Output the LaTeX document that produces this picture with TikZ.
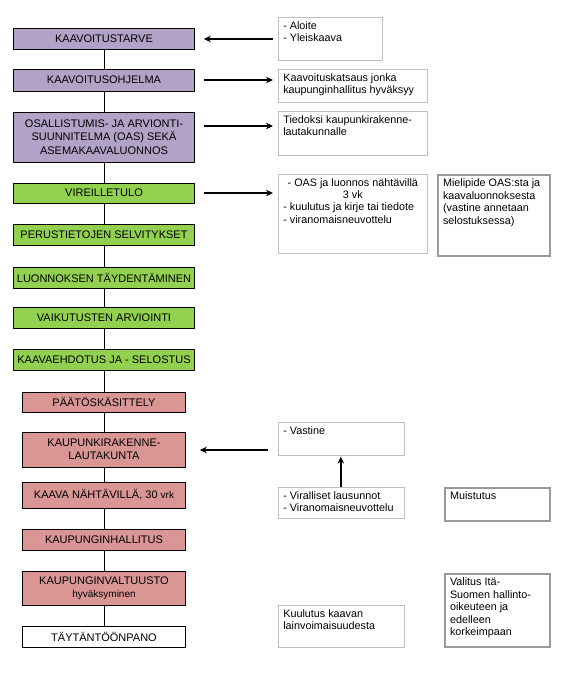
\documentclass[tikz,border=0pt]{standalone}
\usepackage{fontspec}
\setmainfont{Liberation Sans}
\usetikzlibrary{arrows.meta,positioning}
\definecolor{planpurple}{HTML}{B3A2C7}
\definecolor{plangreen}{HTML}{92D050}
\definecolor{planred}{HTML}{D99694}
\newcommand{\notetext}[3]{\parbox[c][#1][t]{#2}{\raggedright #3}}

\begin{document}
\begin{tikzpicture}[x=1pt, y=-1pt,
  phase/.style={draw, line width=0.6pt, minimum width=181pt, minimum height=21pt, inner xsep=2pt, inner ysep=1pt, align=center, font=\fontsize{11}{13.5}\selectfont},
  purplephase/.style={phase, fill=planpurple},
  greenphase/.style={phase, fill=plangreen},
  redphase/.style={phase, fill=planred, minimum width=163pt},
  endphase/.style={phase, fill=white, minimum width=163pt},
  note/.style={draw=black!25, line width=0.6pt, anchor=north west, inner xsep=5pt, inner ysep=4pt, font=\fontsize{10.8}{12.4}\selectfont},
  remark/.style={note, draw=black!40, line width=2pt},
  link/.style={-{Stealth[length=7pt, width=6.5pt]}, line width=1.4pt}
]
\useasboundingbox (0,0) rectangle (572,685);
\node[purplephase] (tarve) at (104,38.5) {KAAVOITUSTARVE};
\node[purplephase, minimum height=22pt] (ohjelma) at (104,80) {KAAVOITUSOHJELMA};
\node[purplephase, minimum height=50pt] (oas) at (104,137) {OSALLISTUMIS- JA ARVIONTI-\\SUUNNITELMA (OAS) SEKÄ\\ASEMAKAAVALUONNOS};
\node[greenphase, minimum height=20pt] (vireille) at (104,193) {VIREILLETULO};
\node[greenphase] (perus) at (104,234.5) {PERUSTIETOJEN SELVITYKSET};
\node[greenphase] (taydennys) at (104,277.5) {LUONNOKSEN TÄYDENTÄMINEN};
\node[greenphase] (arviointi) at (104,317.5) {VAIKUTUSTEN ARVIOINTI};
\node[greenphase] (ehdotus) at (104,359.5) {KAAVAEHDOTUS JA - SELOSTUS};
\node[redphase, minimum height=20pt] (paatos) at (104,402) {PÄÄTÖSKÄSITTELY};
\node[redphase, minimum height=35pt] (lautakunta) at (104,449.5) {KAUPUNKIRAKENNE-\\LAUTAKUNTA};
\node[redphase, minimum height=26pt] (nahtavilla) at (104,495) {KAAVA NÄHTÄVILLÄ, 30 {\fontsize{10}{12}\selectfont vrk}};
\node[redphase] (hallitus) at (104,539.5) {KAUPUNGINHALLITUS};
\node[redphase, minimum height=34pt] (valtuusto) at (104,588) {KAUPUNGINVALTUUSTO\\{\fontsize{10}{12}\selectfont hyväksyminen}};
\node[endphase] (panos) at (104,636.5) {TÄYTÄNTÖÖNPANO};
\draw[line width=0.6pt] (tarve.south) -- (ohjelma.north) (ohjelma.south) -- (oas.north)
  (oas.south) -- (vireille.north) (vireille.south) -- (perus.north)
  (perus.south) -- (taydennys.north) (taydennys.south) -- (arviointi.north)
  (arviointi.south) -- (ehdotus.north) (ehdotus.south) -- (paatos.north)
  (paatos.south) -- (lautakunta.north) (lautakunta.south) -- (nahtavilla.north)
  (nahtavilla.south) -- (hallitus.north) (hallitus.south) -- (valtuusto.north)
  (valtuusto.south) -- (panos.north);

\node[note] (aloite) at (278,17) {\notetext{35pt}{94pt}{- Aloite\\- Yleiskaava}};
\node[note] (katsaus) at (278,69) {\notetext{25pt}{139pt}{Kaavoituskatsaus jonka\\kaupunginhallitus hyväksyy}};
\node[note] (tiedoksi) at (278,111) {\notetext{36pt}{139pt}{Tiedoksi kaupunkirakenne-\\lautakunnalle}};
\node[note] (oasinfo) at (278,174) {\notetext{71pt}{139pt}{{\centering - OAS ja luonnos nähtävillä\\3 vk\par}- kuulutus ja kirje tai tiedote\\- viranomaisneuvottelu}};
\node[remark] (mielipide) at (437,174) {\notetext{73pt}{102pt}{Mielipide OAS:sta ja\\kaavaluonnoksesta\\(vastine annetaan\\selostuksessa)}};
\node[note] (vastine) at (278,422) {\notetext{25pt}{116pt}{- Vastine}};
\node[note] (viralliset) at (278,487) {\notetext{23pt}{116pt}{- Viralliset lausunnot\\- Viranomaisneuvottelu}};
\node[remark] (muistutus) at (444,487) {\notetext{25pt}{95pt}{Muistutus}};
\node[remark] (valitus) at (444,573) {\notetext{65pt}{95pt}{Valitus Itä-\\Suomen hallinto-\\oikeuteen ja\\edelleen\\korkeimpaan}};
\node[note] (kuulutus) at (278,605) {\notetext{34pt}{116pt}{Kuulutus kaavan\\lainvoimaisuudesta}};

\draw[link, shorten <=5pt, shorten >=9pt] ([yshift=-0.5pt]aloite.west |- tarve.east) -- ([yshift=-0.5pt]tarve.east);
\draw[link, shorten <=9pt, shorten >=5pt] (ohjelma.east) -- (ohjelma.east -| katsaus.west);
\draw[link, shorten <=9pt, shorten >=5pt] ([yshift=11pt]oas.east) -- ([yshift=11pt]oas.east -| tiedoksi.west);
\draw[link, shorten <=9pt, shorten >=5pt] (vireille.east) -- (vireille.east -| oasinfo.west);
\draw[link, shorten <=10pt, shorten >=14pt] ([yshift=-0.5pt]vastine.west |- lautakunta.east) -- ([yshift=-0.5pt]lautakunta.east);
\draw[link, shorten >=1pt] ([xshift=-0.5pt]viralliset.north) -- ([xshift=-0.5pt]vastine.south);
\end{tikzpicture}
\end{document}
